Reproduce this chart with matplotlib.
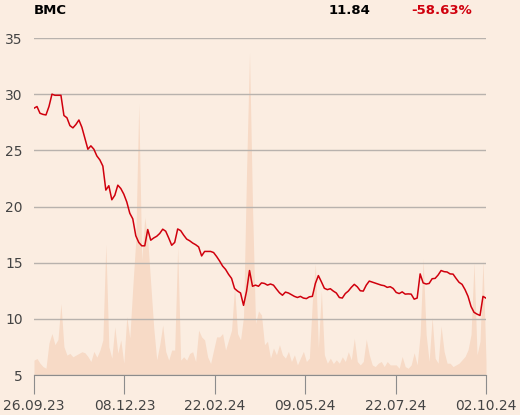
import numpy as np
import matplotlib.pyplot as plt

# price, sampled evenly over the trading days shown
price = [
    28.75, 28.9, 28.3, 28.2, 28.15, 28.9, 30.0, 29.9, 29.9, 29.9,
    28.1, 27.9, 27.2, 27.0, 27.3, 27.7, 27.05, 26.07, 25.1, 25.4,
    25.1, 24.5, 24.15, 23.6, 21.46, 21.85, 20.6, 21.0, 21.9, 21.6,
    21.1, 20.4, 19.4, 18.9, 17.4, 16.8, 16.5, 16.5, 17.95, 17.0,
    17.2, 17.35, 17.6, 17.98, 17.8, 17.2, 16.55, 16.8, 18.0, 17.85,
    17.45, 17.1, 16.95, 16.75, 16.6, 16.4, 15.6, 16.0, 16.0, 16.0,
    15.9, 15.55, 15.15, 14.7, 14.4, 13.96, 13.6, 12.7, 12.47, 12.3,
    11.2, 12.45, 14.3, 12.9, 13.0, 12.9, 13.2, 13.15, 13.0, 13.1,
    13.0, 12.65, 12.32, 12.1, 12.38, 12.3, 12.15, 12.0, 11.9, 12.0,
    11.85, 11.8, 11.96, 12.0, 13.15, 13.85, 13.3, 12.72, 12.6, 12.68,
    12.47, 12.3, 11.9, 11.85, 12.25, 12.47, 12.8, 13.07, 12.85, 12.5,
    12.47, 13.0, 13.36, 13.27, 13.17, 13.1, 13.0, 12.95, 12.8, 12.86,
    12.7, 12.35, 12.25, 12.4, 12.2, 12.22, 12.2, 11.75, 11.85, 14.0,
    13.2, 13.1, 13.15, 13.57, 13.6, 13.9, 14.3, 14.2, 14.17, 14.0,
    13.98, 13.6, 13.25, 13.07, 12.6, 12.0, 11.1, 10.58, 10.42, 10.3,
    12.0, 11.84,
]

# volume, relative units (same sampling)
volume = [
    4.4, 4.9, 3.5, 2.5, 2.0, 9.5, 12.3, 9.0, 10.5, 21.2,
    8.4, 5.9, 6.4, 5.4, 5.9, 6.4, 6.9, 6.6, 5.5, 4.0,
    7.0, 5.3, 7.3, 10.4, 38.8, 8.4, 5.0, 14.3, 6.5, 10.4,
    3.5, 17.3, 11.0, 26.1, 39.9, 80.4, 34.0, 46.8, 40.0, 27.0,
    14.0, 4.5, 9.0, 14.8, 7.0, 4.4, 7.4, 7.4, 38.0, 4.4,
    5.4, 4.4, 6.4, 6.9, 4.0, 13.3, 11.3, 10.4, 5.4, 3.4,
    7.4, 11.3, 11.3, 12.3, 7.4, 10.4, 13.3, 26.1, 12.3, 10.4,
    17.3, 60.0, 95.7, 50.0, 15.3, 19.0, 17.8, 9.0, 10.0, 5.0,
    8.0, 6.0, 9.0, 6.0, 5.0, 7.0, 4.0, 6.0, 3.0, 5.0,
    7.0, 4.0, 5.0, 22.0, 33.0, 8.0, 25.0, 6.0, 3.5, 5.0,
    3.4, 4.5, 3.5, 5.4, 4.0, 6.9, 4.5, 10.9, 4.0, 3.0,
    4.0, 10.6, 6.0, 3.0, 2.5, 3.5, 4.0, 2.5, 4.0, 3.0,
    3.0, 3.0, 2.0, 5.5, 2.5, 2.0, 3.0, 6.6, 3.0, 12.0,
    34.5, 12.0, 4.0, 17.1, 5.0, 3.5, 14.5, 7.0, 3.5, 3.5,
    2.5, 3.0, 3.5, 4.5, 5.5, 7.5, 12.0, 33.5, 6.0, 10.0,
    34.0, 4.0,
]

date_labels = ["26.09.23", "08.12.23", "22.02.24", "09.05.24", "22.07.24", "02.10.24"]
y_ticks = [5, 10, 15, 20, 25, 30, 35]

ticker = "BMC"
last_price = "11.84"
change = "-58.63%"

bg = "#fbede1"
red = "#d0000d"

n = len(price)
x = np.arange(n)

fig = plt.figure(figsize=(5.2, 4.15), dpi=100, facecolor=bg)
ax = fig.add_axes([34 / 520, 1 - 375 / 415, 452 / 520, 337 / 415])

# volume on its own hidden axis behind the price line
axv = ax.twinx()
axv.fill_between(x, 0, volume, color="#f7dac6", lw=0)
axv.set_ylim(0, 100)
axv.axis("off")
ax.set_zorder(axv.get_zorder() + 1)
ax.patch.set_visible(False)

ax.plot(x, price, color=red, lw=1.1, zorder=3)

ax.set_xlim(0, n - 1)
ax.set_ylim(5, 35)
ax.set_yticks(y_ticks)
ax.yaxis.grid(True, color="#b8b2ad", lw=1)
ax.set_axisbelow(True)
ax.set_xticks(np.linspace(0, n - 1, len(date_labels)))
ax.set_xticklabels(date_labels)

for s in ["top", "right", "left"]:
    ax.spines[s].set_visible(False)
ax.spines["bottom"].set_color("#8c8c8c")
ax.tick_params(axis="y", length=0, pad=8, labelsize=10, labelcolor="#444444")
ax.tick_params(axis="x", length=14, color="#8c8c8c", pad=3, labelsize=10, labelcolor="#444444")

fig.text(34 / 520, 1 - 10 / 415, ticker, fontsize=9.5, fontweight="bold", va="center", ha="left")
fig.text(370 / 520, 1 - 10 / 415, last_price, fontsize=9.5, fontweight="bold", va="center", ha="right")
fig.text(472 / 520, 1 - 10 / 415, change, fontsize=9.5, fontweight="bold", va="center", ha="right", color=red)

fig.savefig("out.png", dpi=100, facecolor=bg)
